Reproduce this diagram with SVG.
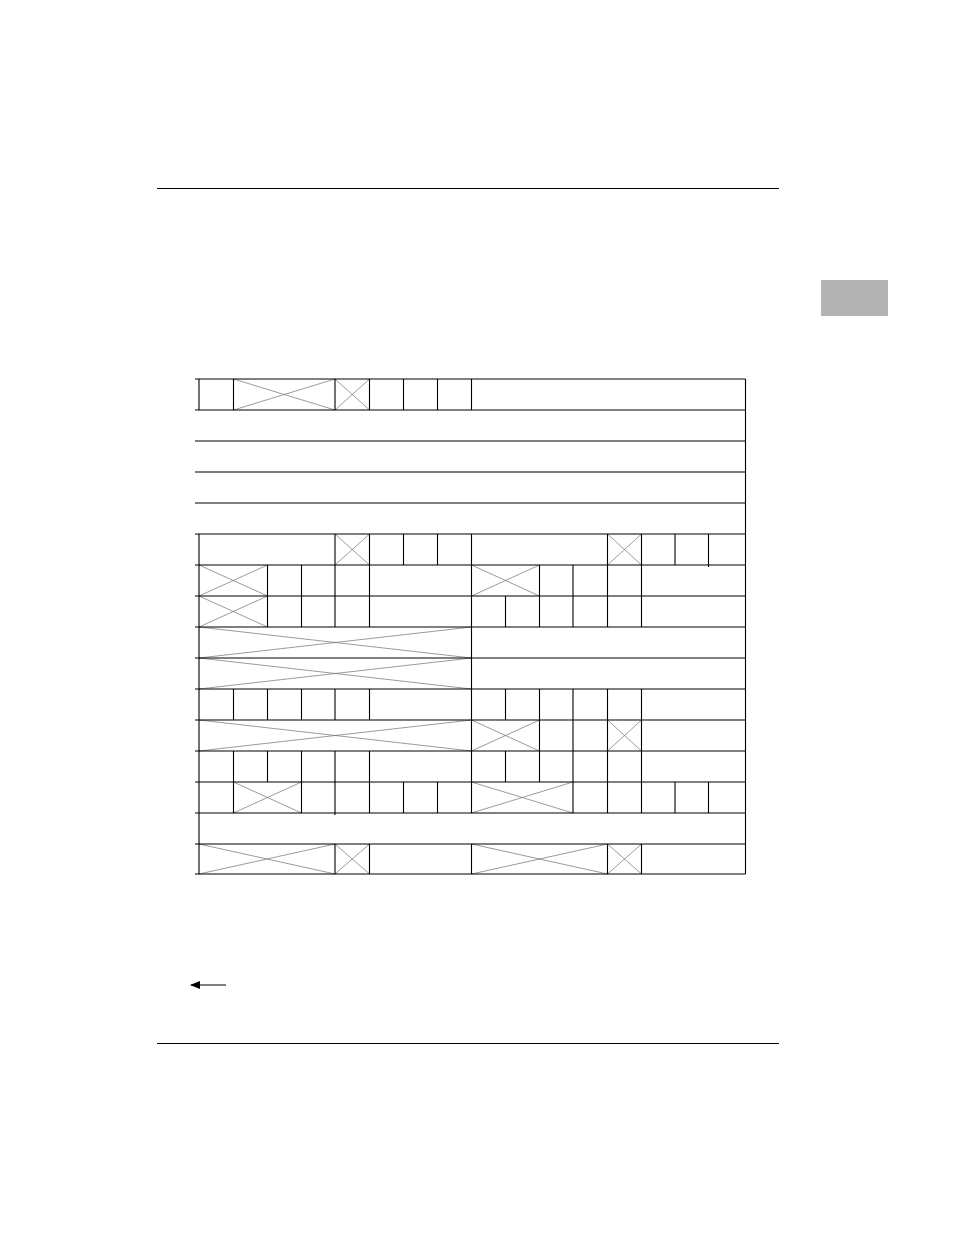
<svg xmlns="http://www.w3.org/2000/svg" width="954" height="1235" viewBox="0 0 954 1235">
<style>
.g{stroke:#000;stroke-width:1.1;fill:none}
.x{stroke:#707070;stroke-width:0.7;fill:none}
.r{stroke:#000;stroke-width:1.2}
</style>
<defs>
<marker id="ah" markerWidth="10" markerHeight="8" refX="9" refY="4" orient="auto" markerUnits="userSpaceOnUse">
<path d="M0,0 L10,4 L0,8 Z" fill="#000"/>
</marker>
</defs>
<rect width="954" height="1235" fill="#fff"/>
<line class="r" x1="157" y1="188.5" x2="779" y2="188.5"/>
<line class="r" x1="157" y1="1043.5" x2="779" y2="1043.5"/>
<rect id="tab" x="821" y="280" width="67" height="36" fill="#b3b3b3"/>

<g id="crosses" class="x">
<!-- row 0 -->
<path d="M233.5,379 L335,410 M233.5,410 L335,379"/>
<path d="M335,379 L369.5,410 M335,410 L369.5,379"/>
<!-- row 5 -->
<path d="M335,534 L369.5,565 M335,565 L369.5,534"/>
<path d="M607.5,534 L641.5,565 M607.5,565 L641.5,534"/>
<!-- row 6 -->
<path d="M199,565 L267.5,596 M199,596 L267.5,565"/>
<path d="M471.5,565 L539.5,596 M471.5,596 L539.5,565"/>
<!-- row 7 -->
<path d="M199,596 L267.5,627 M199,627 L267.5,596"/>
<!-- rows 8,9 -->
<path d="M199,627 L471.5,658 M199,658 L471.5,627"/>
<path d="M199,658 L471.5,689 M199,689 L471.5,658"/>
<!-- row 11 -->
<path d="M199,720 L471.5,751 M199,751 L471.5,720"/>
<path d="M471.5,720 L539.5,751 M471.5,751 L539.5,720"/>
<path d="M607.5,720 L641.5,751 M607.5,751 L641.5,720"/>
<!-- row 13 -->
<path d="M233.5,782 L301.5,813 M233.5,813 L301.5,782"/>
<path d="M471.5,782 L573,813 M471.5,813 L573,782"/>
<!-- row 15 -->
<path d="M199,844 L335,874 M199,874 L335,844"/>
<path d="M335,844 L369.5,874 M335,874 L369.5,844"/>
<path d="M471.5,844 L607.5,874 M471.5,874 L607.5,844"/>
<path d="M607.5,844 L641.5,874 M607.5,874 L641.5,844"/>
</g>

<g id="grid" class="g">
<!-- horizontal lines -->
<path d="M195,379H745.5 M195,410H745.5 M195,441H745.5 M195,472H745.5 M195,503H745.5 M195,534H745.5 M195,565H745.5 M195,596H745.5 M195,627H745.5 M195,658H745.5 M195,689H745.5 M195,720H745.5 M195,751H745.5 M195,782H745.5 M195,813H745.5 M195,844H745.5 M195,874H745.5"/>
<!-- right border -->
<path d="M745.5,379V874"/>
<!-- left border -->
<path d="M199,379V410 M199,534V874"/>
<!-- row 0 -->
<path d="M233.5,379V410 M335,379V410 M369.5,379V410 M403.5,379V410 M437.5,379V410 M471.5,379V410"/>
<!-- row 5 -->
<path d="M335,534V565 M369.5,534V565 M403.5,534V565 M437.5,534V565 M471.5,534V565 M607.5,534V565 M641.5,534V565 M675,534V565 M708.5,534V567"/>
<!-- row 6 -->
<path d="M267.5,565V596 M301.5,565V596 M335,565V596 M369.5,565V596 M471.5,565V596 M539.5,565V596 M573,565V596 M607.5,565V596 M641.5,565V596"/>
<!-- row 7 -->
<path d="M267.5,596V627 M301.5,596V627 M335,596V627 M369.5,596V627 M471.5,596V627 M505.5,596V627 M539.5,596V627 M573,596V627 M607.5,596V627 M641.5,596V627"/>
<!-- rows 8,9 -->
<path d="M471.5,627V689"/>
<!-- row 10 -->
<path d="M233.5,689V720 M267.5,689V720 M301.5,689V720 M335,689V720 M369.5,689V720 M471.5,689V720 M505.5,689V720 M539.5,689V720 M573,689V720 M607.5,689V720 M641.5,689V720"/>
<!-- row 11 -->
<path d="M471.5,720V751 M539.5,720V751 M573,720V751 M607.5,720V751 M641.5,720V751"/>
<!-- row 12 -->
<path d="M233.5,751V782 M267.5,751V782 M301.5,751V782 M335,751V782 M369.5,751V782 M471.5,751V782 M505.5,751V782 M539.5,751V782 M573,751V782 M607.5,751V782 M641.5,751V782"/>
<!-- row 13 -->
<path d="M233.5,782V813 M301.5,782V813 M335,782V815 M369.5,782V813 M403.5,782V813 M437.5,782V813 M471.5,782V813 M573,782V813 M607.5,782V813 M641.5,782V813 M675,782V813 M708.5,782V813"/>
<!-- row 15 -->
<path d="M335,844V874 M369.5,844V874 M471.5,844V874 M607.5,844V874 M641.5,844V874"/>
</g>

<g id="connectors">
<line x1="226" y1="985" x2="191" y2="985" stroke="#000" stroke-width="1.2" marker-end="url(#ah)"/>
</g>
</svg>
